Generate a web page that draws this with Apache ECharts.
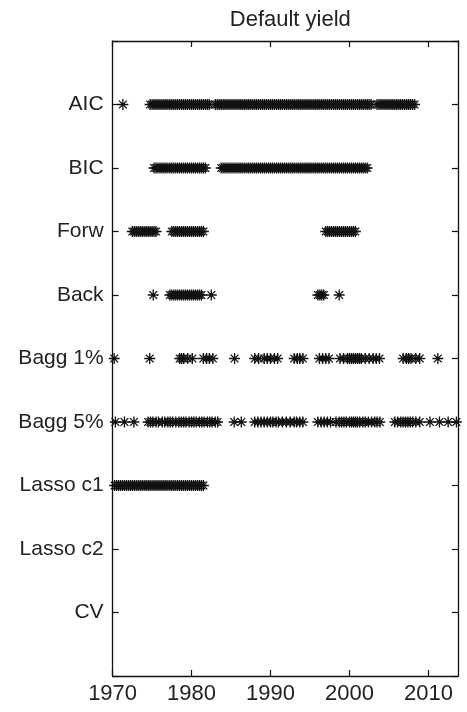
<!DOCTYPE html>
<html><head><meta charset="utf-8">
<script src="https://cdn.jsdelivr.net/npm/echarts@6/dist/echarts.min.js"></script>
<style>html,body{margin:0;padding:0;background:#fff}#c{width:467px;height:712px}</style>
</head><body><div id="c"></div><script>
// Categories from bottom (1) to top (9)
const categories = ['CV','Lasso c2','Lasso c1','Bagg 5%','Bagg 1%','Back','Forw','BIC','AIC'];
const xTickLabels = [1970,1980,1990,2000,2010];
const xMin = 1970, xMax = 2013.75;

const aic = [1971.3,
1974.75,1975,1975.25,1975.5,1975.75,1976,1976.25,1976.5,1976.75,1977,1977.25,1977.5,1977.75,1978,1978.25,1978.5,1978.75,
1979,1979.25,1979.5,1979.75,1980,1980.25,1980.5,1980.75,1981,1981.25,1981.5,1981.75,1982,1982.25,
1983,1983.25,1983.5,1983.75,1984,1984.25,1984.5,1984.75,1985,1985.25,1985.5,1985.75,1986,1986.25,1986.5,1986.75,
1987,1987.25,1987.5,1987.75,1988,1988.25,1988.5,1988.75,1989,1989.25,1989.5,1989.75,1990,1990.25,1990.5,1990.75,
1991,1991.25,1991.5,1991.75,1992,1992.25,1992.5,1992.75,1993,1993.25,1993.5,1993.75,1994,1994.25,1994.5,1994.75,
1995,1995.25,1995.5,1995.75,1996,1996.25,1996.5,1996.75,1997,1997.25,1997.5,1997.75,1998,1998.25,1998.5,1998.75,
1999,1999.25,1999.5,1999.75,2000,2000.25,2000.5,2000.75,2001,2001.25,2001.5,2001.75,2002,2002.25,2002.5,2002.75,
2003.5,2003.75,2004,2004.25,2004.5,2004.75,2005,2005.25,2005.5,2005.75,2006,2006.25,2006.5,2006.75,
2007,2007.25,2007.5,2007.75,2008,2008.25];

const bic = [
1975.25,1975.5,1975.75,1976,1976.25,1976.5,1976.75,1977,1977.25,1977.5,1977.75,1978,1978.25,1978.5,1978.75,
1979,1979.25,1979.5,1979.75,1980,1980.25,1980.5,1980.75,1981,1981.25,1981.5,1981.75,
1983.75,1984,1984.25,1984.5,1984.75,1985,1985.25,1985.5,1985.75,1986,1986.25,1986.5,1986.75,
1987,1987.25,1987.5,1987.75,1988,1988.25,1988.5,1988.75,1989,1989.25,1989.5,1989.75,1990,1990.25,1990.5,1990.75,
1991,1991.25,1991.5,1991.75,1992,1992.25,1992.5,1992.75,1993,1993.25,1993.5,1993.75,1994,1994.25,1994.5,1994.75,
1995,1995.25,1995.5,1995.75,1996,1996.25,1996.5,1996.75,1997,1997.25,1997.5,1997.75,1998,1998.25,1998.5,1998.75,
1999,1999.25,1999.5,1999.75,2000,2000.25,2000.5,2000.75,2001,2001.25,2001.5,2001.75,2002,2002.25];

const forw = [
1972.5,1972.75,1973,1973.25,1973.5,1973.75,1974,1974.25,1974.5,1974.75,1975,1975.25,1975.5,
1977.5,1977.75,1978,1978.25,1978.5,1978.75,1979,1979.25,1979.5,1979.75,1980,1980.25,1980.5,1980.75,1981,1981.25,1981.5,
1997,1997.25,1997.5,1997.75,1998,1998.25,1998.5,1998.75,1999,1999.25,1999.5,1999.75,2000,2000.25,2000.5,2000.75];

const back = [1975.15,
1977.25,1977.5,1977.75,1978,1978.25,1978.5,1978.75,1979,1979.25,1979.5,1979.75,1980,1980.25,1980.5,1980.75,1981,1981.25,
1982.5,
1996,1996.25,1996.5,1996.75,
1998.7];

const bagg1 = [1970.2, 1974.7,
1978.5,1978.75,1979,1979.5,1980.1,
1981.5,1981.9,1982.25,1982.7,
1985.45,
1988,1988.5,1989.2,1989.6,1990,1990.5,1990.9,
1993,1993.4,1993.7,1994.1,
1996.2,1996.6,1997,1997.4,
1998.8,1999.25,1999.75,2000,2000.25,2000.5,2000.75,2001,2001.25,2001.5,2002,2002.5,2003,2003.4,2003.8,
2006.8,2007.2,2007.5,2007.8,2008.4,2008.9,
2011.2];

const bagg5 = [1970.35,1971.5,1972.7,
1974.5,1974.8,1975.1,1975.5,1975.8,1976.3,1976.6,1977,1977.3,1977.6,1978,1978.4,1978.7,1979,1979.3,1979.7,
1980,1980.3,1980.6,1981,1981.3,1981.6,1982,1982.3,1982.6,1983,1983.3,
1985.4,1986.3,
1988,1988.4,1988.8,1989.2,1989.6,1990,1990.3,1990.7,1991,1991.5,1992,1992.5,1993,1993.3,1993.7,1994.1,
1996,1996.4,1996.8,1997.2,1997.6,1998.3,1998.7,1999,1999.3,1999.6,2000,2000.25,2000.5,2000.75,2001,2001.3,2001.7,
2002,2002.4,2002.8,2003.2,2003.5,2003.85,
2005.75,2006.1,2006.5,2006.8,2007.1,2007.4,2007.7,2008,2008.4,2008.9,
2010.2,2011.4,2012.5,2013.55];

const lassoC1 = [
1970.25,1970.5,1970.75,1971,1971.25,1971.5,1971.75,1972,1972.25,1972.5,1972.75,1973,1973.25,1973.5,1973.75,
1974,1974.25,1974.5,1974.75,1975,1975.25,1975.5,1975.75,1976,1976.25,1976.5,1976.75,1977,1977.25,1977.5,1977.75,
1978,1978.25,1978.5,1978.75,1979,1979.25,1979.5,1979.75,1980,1980.25,1980.5,1980.75,1981,1981.25,1981.5];

const lassoC2 = [];
const cv = [];

const rows = [
  ['AIC', aic], ['BIC', bic], ['Forw', forw], ['Back', back],
  ['Bagg 1%', bagg1], ['Bagg 5%', bagg5], ['Lasso c1', lassoC1],
  ['Lasso c2', lassoC2], ['CV', cv]
];

const star = 'path://M0 8.8H20V11.2H0Z M8.8 0H11.2V20H8.8Z M3.77 2.07L17.93 16.23L16.23 17.93L2.07 3.77Z M17.93 3.77L3.77 17.93L2.07 16.23L16.23 2.07Z';
const ink = '#111';
const FONT = 'Liberation Sans, Arial, Helvetica, sans-serif';

const series = rows.map(([name, arr]) => {
  const yv = categories.indexOf(name) + 1;
  return {
    name, type: 'scatter', xAxisIndex: 0, yAxisIndex: 0,
    symbol: star, symbolSize: 11, silent: true,
    itemStyle: { color: ink, opacity: 1 },
    data: arr.map(x => [x, yv])
  };
});

const axisLineStyle = { show: true, onZero: false, lineStyle: { color: '#111', width: 1.3 } };
const tickStyle = { show: true, inside: true, length: 6, lineStyle: { color: '#111', width: 1.2 } };

const chart = echarts.init(document.getElementById('c'), null, { renderer: 'canvas' });
chart.setOption({
  animation: false,
  backgroundColor: '#fff',
  title: {
    text: 'Default yield', left: 285.3, top: 4, textAlign: 'center',
    textStyle: { fontFamily: FONT, fontSize: 22, fontWeight: 'normal', color: '#222' }
  },
  grid: { left: 112.6, right: 9, top: 41, bottom: 36, containLabel: false },
  xAxis: [
    { type: 'value', min: xMin, max: xMax, interval: 10, position: 'bottom',
      axisLine: axisLineStyle, axisTick: tickStyle, splitLine: { show: false },
      axisLabel: { margin: 7, fontFamily: FONT, fontSize: 22, color: '#222', showMaxLabel: false,
        formatter: v => xTickLabels.includes(v) ? String(v) : '' } },
    { type: 'value', min: xMin, max: xMax, interval: 10, position: 'top',
      axisLine: axisLineStyle, axisTick: tickStyle, splitLine: { show: false },
      axisLabel: { show: false } }
  ],
  yAxis: [
    { type: 'value', min: 0, max: 10, interval: 1, position: 'left',
      axisLine: axisLineStyle, axisTick: tickStyle, splitLine: { show: false },
      axisLabel: { margin: 9, fontFamily: FONT, fontSize: 21, color: '#222',
        formatter: v => (v >= 1 && v <= 9) ? categories[v - 1] : '' } },
    { type: 'value', min: 0, max: 10, interval: 1, position: 'right',
      axisLine: axisLineStyle, axisTick: tickStyle, splitLine: { show: false },
      axisLabel: { show: false } }
  ],
  series
});
</script></body></html>
